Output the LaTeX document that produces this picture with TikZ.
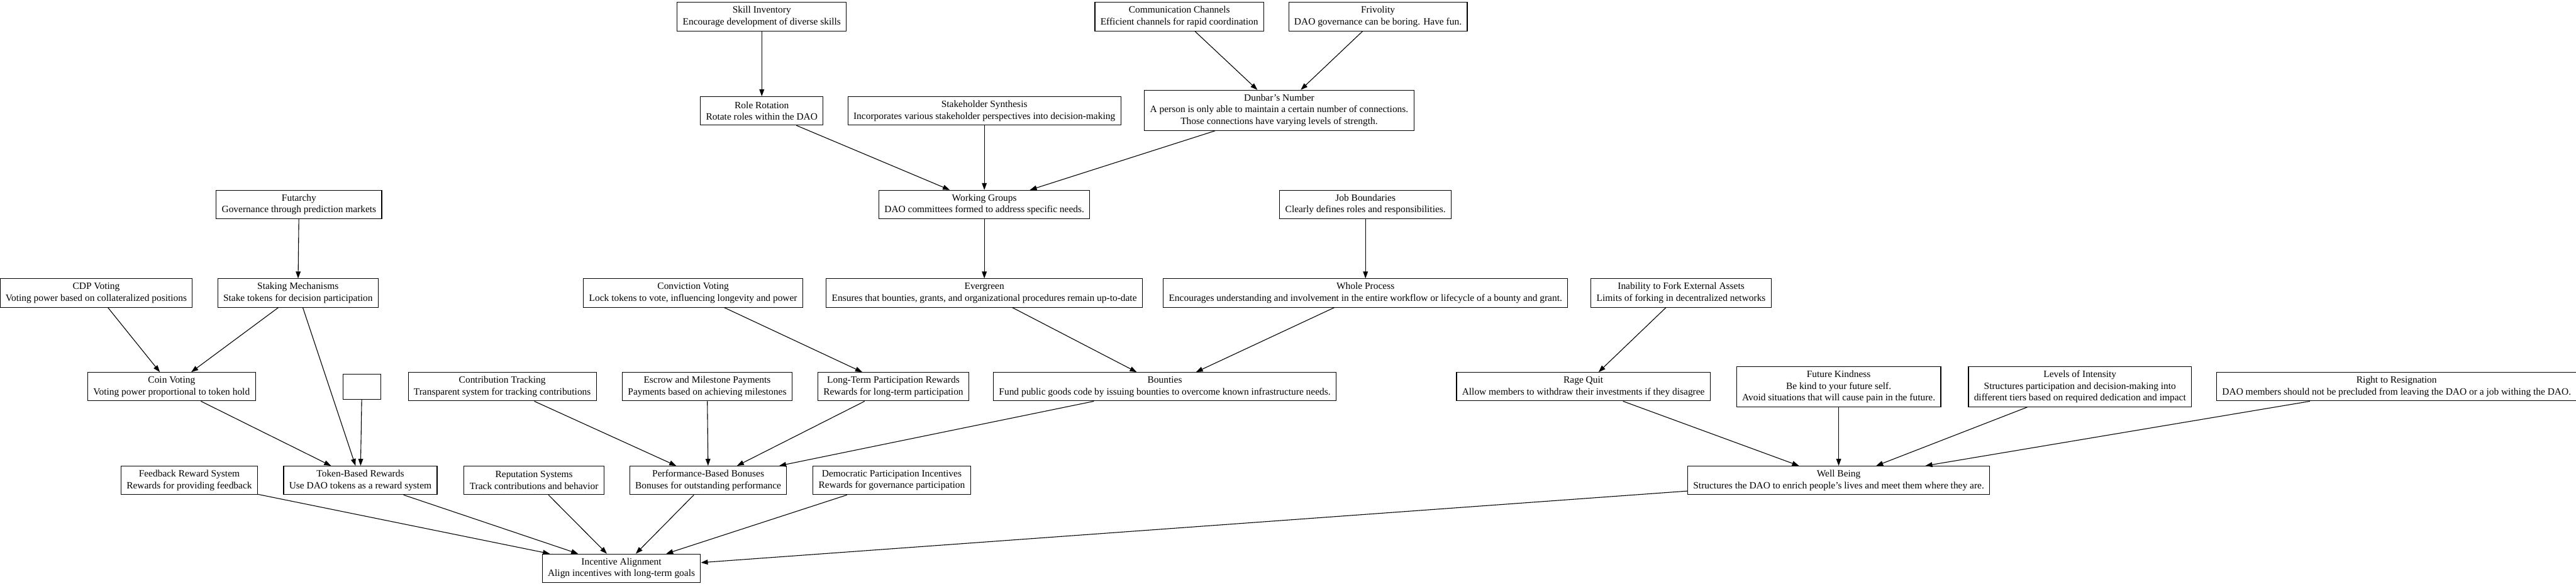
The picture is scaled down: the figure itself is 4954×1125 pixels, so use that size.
\documentclass[tikz,border=0pt]{standalone}
\usepackage{fontspec}
\setmainfont{Liberation Serif}
\usetikzlibrary{arrows.meta}
\tikzset{box/.style={draw, line width=1pt, align=center, inner xsep=8pt, inner ysep=4pt, minimum height=41pt, font=\fontsize{14}{16.8}\selectfont},
  tallbox/.style={box, minimum height=58pt},
  link/.style={-{Triangle[length=10pt,width=7pt]}, line width=1pt}}

\begin{document}
\begin{tikzpicture}[x=0.75pt, y=-0.75pt]
  \useasboundingbox (0,0) rectangle (4954,1125);
  % row 1
  \node[box] (skill)  at (1465, 32) {Skill Inventory\\Encourage development of diverse skills};
  \node[box] (comm)   at (2268, 32) {Communication Channels\\Efficient channels for rapid coordination};
  \node[box] (friv)   at (2650, 32) {Frivolity\\DAO governance can be boring. Have fun.};
  % row 2
  \node[box] (rolerot) at (1465,213) {Role Rotation\\Rotate roles within the DAO};
  \node[box] (synth)   at (1893,213) {Stakeholder Synthesis\\Incorporates various stakeholder perspectives into decision-making};
  \node[tallbox] (dunbar) at (2460,212) {Dunbar's Number\\A person is only able to maintain a certain number of connections.\\Those connections have varying levels of strength.};
  % row 3
  \node[box] (futarchy) at ( 575,393) {Futarchy\\Governance through prediction markets};
  \node[box] (workgrp)  at (1893,393) {Working Groups\\DAO committees formed to address specific needs.};
  \node[box] (jobbound) at (2626,393) {Job Boundaries\\Clearly defines roles and responsibilities.};
  % row 4
  \node[box] (cdp)       at ( 185,563) {CDP Voting\\Voting power based on collateralized positions};
  \node[box] (staking)   at ( 573,563) {Staking Mechanisms\\Stake tokens for decision participation};
  \node[box] (conviction) at (1333,563) {Conviction Voting\\Lock tokens to vote, influencing longevity and power};
  \node[box] (evergreen) at (1893,563) {Evergreen\\Ensures that bounties, grants, and organizational procedures remain up-to-date};
  \node[box] (wholeproc) at (2626,563) {Whole Process\\Encourages understanding and involvement in the entire workflow or lifecycle of a bounty and grant.};
  \node[box] (nofork)    at (3233,563) {Inability to Fork External Assets\\Limits of forking in decentralized networks};
  % row 5
  \node[box] (coin)     at ( 330,743) {Coin Voting\\Voting power proportional to token hold};
  \node[draw, line width=1pt, minimum width=54pt, minimum height=36pt] (blank) at (696,743) {};
  \node[box] (contrib)  at ( 966,743) {Contribution Tracking\\Transparent system for tracking contributions};
  \node[box] (escrow)   at (1360,743) {Escrow and Milestone Payments\\Payments based on achieving milestones};
  \node[box] (longterm) at (1718,743) {Long-Term Participation Rewards\\Rewards for long-term participation};
  \node[box] (bounties) at (2240,743) {Bounties\\Fund public goods code by issuing bounties to overcome known infrastructure needs.};
  \node[box] (ragequit) at (3045,743) {Rage Quit\\Allow members to withdraw their investments if they disagree};
  \node[tallbox] (futkind)   at (3536,743) {Future Kindness\\Be kind to your future self.\\Avoid situations that will cause pain in the future.};
  \node[tallbox] (intensity) at (4000,743) {Levels of Intensity\\Structures participation and decision-making into\\different tiers based on required dedication and impact};
  \node[box] (resign)   at (4609,743) {Right to Resignation\\DAO members should not be precluded from leaving the DAO or a job withing the DAO.};
  % row 6
  \node[box] (feedback)  at ( 364,923) {Feedback Reward System\\Rewards for providing feedback};
  \node[box] (tokrew)    at ( 693,923) {Token-Based Rewards\\Use DAO tokens as a reward system};
  \node[box] (reput)     at (1027,923) {Reputation Systems\\Track contributions and behavior};
  \node[box] (perfbon)   at (1362,923) {Performance-Based Bonuses\\Bonuses for outstanding performance};
  \node[box] (democ)     at (1715,923) {Democratic Participation Incentives\\Rewards for governance participation};
  \node[box] (wellbeing) at (3536,923) {Well Being\\Structures the DAO to enrich people's lives and meet them where they are.};
  % row 7
  \node[box] (incent) at (1195,1092) {Incentive Alignment\\Align incentives with long-term goals};

  \draw[link] (skill) -- (rolerot);
  \draw[link] (rolerot) -- (workgrp);
  \draw[link] (synth) -- (workgrp);
  \draw[link] (dunbar) -- (workgrp);
  \draw[link] (comm) -- (dunbar);
  \draw[link] (friv) -- (dunbar);
  \draw[link] (workgrp) -- (evergreen);
  \draw[link] (evergreen) -- (bounties);
  \draw[link] (jobbound) -- (wholeproc);
  \draw[link] (wholeproc) -- (bounties);
  \draw[link] (futarchy) -- (staking);
  \draw[link] (cdp) -- (coin);
  \draw[link] (staking) -- (coin);
  \draw[link] (staking) -- (tokrew);
  \draw[link] (coin) -- (tokrew);
  \draw[link] (blank) -- (tokrew);
  \draw[link] (conviction) -- (longterm);
  \draw[link] (contrib) -- (perfbon);
  \draw[link] (escrow) -- (perfbon);
  \draw[link] (longterm) -- (perfbon);
  \draw[link] (bounties) -- (perfbon);
  \draw[link] (nofork) -- (ragequit);
  \draw[link] (ragequit) -- (wellbeing);
  \draw[link] (futkind) -- (wellbeing);
  \draw[link] (intensity) -- (wellbeing);
  \draw[link] (resign) -- (wellbeing);
  \draw[link] (feedback) -- (incent);
  \draw[link] (tokrew) -- (incent);
  \draw[link] (reput) -- (incent);
  \draw[link] (perfbon) -- (incent);
  \draw[link] (democ) -- (incent);
  \draw[link] (wellbeing) -- (incent);
\end{tikzpicture}
\end{document}
